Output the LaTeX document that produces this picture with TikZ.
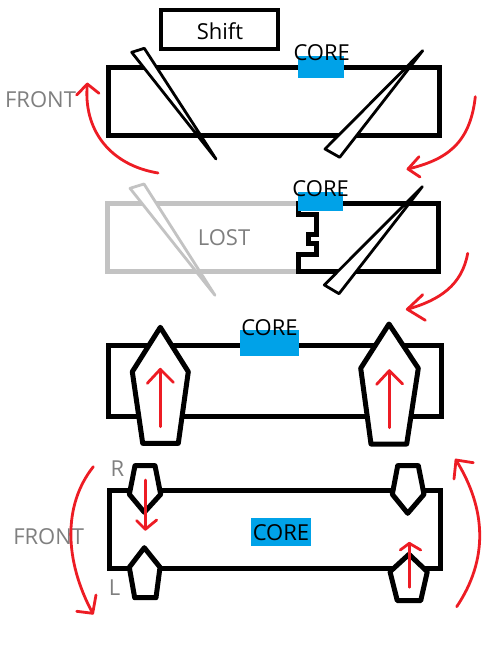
\documentclass[tikz,border=0pt]{standalone}
\usepackage{fontspec}
\setmainfont{Open Sans}
\definecolor{redarrow}{HTML}{ED1C24}
\definecolor{coreblue}{HTML}{00A2E8}
\definecolor{lostgray}{HTML}{C3C3C3}
\definecolor{labelgray}{HTML}{7F7F7F}
\tikzset{
  bar/.style={draw=black,line width=5pt,line join=miter},
  lostbar/.style={draw=lostgray,line width=5pt},
  blade/.style={draw=black,fill=white,line width=2.8pt,line join=round},
  lostblade/.style={draw=lostgray,fill=white,line width=2.8pt,line join=round},
  pent/.style={draw=black,fill=white,line width=5pt,line join=round},
  redline/.style={draw=redarrow,line width=2.8pt,line cap=round,line join=round},
  coreblock/.style={fill=coreblue,draw=none},
  txt/.style={inner sep=0pt,font=\fontsize{22}{26}\selectfont},
  graytxt/.style={txt,text=labelgray},
}
\begin{document}
\begin{tikzpicture}[x=1pt,y=-1pt]
\useasboundingbox (0,0) rectangle (502,645);
% Shift
\node[draw=black,line width=3.2pt,minimum width=117pt,minimum height=39pt,inner sep=0pt,anchor=center] (shiftbox) at (219.5,29.5) {};
\node[txt] (shifttxt) at (220,31) {Shift};
% row 1
\draw[bar] (108.5,67.8) rectangle (439.5,135);
\fill[coreblock] (298,56) rectangle (344,78);
\node[txt] (core1) at (321.7,53) {CORE};
\draw[blade] (131.7,52.3) -- (144.3,48.3) -- (216,159) -- cycle;
\draw[blade] (422.7,50.7) -- (325,149) -- (339.7,157.3) -- cycle;
\node[graytxt] (front1) at (40.5,100) {FRONT};
\draw[redline] (158,173) .. controls (110,165) and (83,130) .. (87.3,84);
\draw[redline] (76.7,95) -- (87.3,84) -- (99,93.3);
\draw[redline] (475.3,96.7) .. controls (470,145) and (445,160) .. (408,169);
\draw[redline] (419,156.7) -- (408,169) -- (420,177);
% row 2
\draw[lostbar] (298,203.7) -- (107.5,203.7) -- (107.5,271.5) -- (298,271.5);
\draw[lostblade] (130,188.3) -- (144,184) -- (215,295.3) -- cycle;
\node[graytxt] (lost) at (224,238) {LOST};
\draw[bar] (298,203.8) -- (438.5,203.8) -- (438.5,271.5) -- (298,271.5) -- (298,254.5) -- (316.5,254.5) -- (316.5,243.5) -- (308,243.5) -- (308,234.5) -- (316.5,234.5) -- (316.5,214.5) -- (298,214.5) -- cycle;
\fill[coreblock] (297.7,192) rectangle (343,211);
\node[txt] (core2) at (320.7,189) {CORE};
\draw[blade] (422.3,186.7) -- (324.3,285) -- (339,293.7) -- cycle;
\draw[redline] (467.7,253.3) .. controls (462,285) and (440,300) .. (407.3,309.3);
\draw[redline] (422.7,294.7) -- (407.3,309.3) -- (425.3,320.3);
% row 3
\draw[bar] (108.7,345.5) rectangle (441.3,416.3);
\fill[coreblock] (240,330) rectangle (299,355.7);
\node[txt] (core3) at (269.5,328) {CORE};
\draw[pent] (160.3,327.3) -- (188.3,371.7) -- (178.3,443.3) -- (142.7,443.3) -- (132.3,371.7) -- cycle;
\draw[pent] (389,324) -- (418.3,368.3) -- (406.7,444) -- (371,444) -- (360.7,368.3) -- cycle;
\draw[redline] (160.3,426.7) -- (160.3,369.3);
\draw[redline] (147.3,383.3) -- (160.3,369.3) -- (173.3,382.3);
\draw[redline] (389.3,427.7) -- (389.3,370.7);
\draw[redline] (376.7,384.3) -- (389.3,370.7) -- (402.7,384);
% row 4
\draw[bar] (109.7,490.5) rectangle (440.5,568.5);
\fill[coreblock] (251,518.3) rectangle (311,545.7);
\node[txt] (core4) at (281,533) {CORE};
\draw[pent] (144.3,512.3) -- (160.7,494.3) -- (155,465.7) -- (135,465.7) -- (129.3,494.3) -- cycle;
\draw[pent] (144.3,547.7) -- (160,567.3) -- (156,597.7) -- (134.7,597.7) -- (129.3,567.3) -- cycle;
\draw[pent] (407.7,513.3) -- (424,494.3) -- (418.3,465.7) -- (397.7,465.7) -- (392.3,494.3) -- cycle;
\draw[pent] (409,554.3) -- (427.3,571.7) -- (420.7,600.7) -- (397.3,600.7) -- (390,571.7) -- cycle;
\draw[redline] (145.3,480) -- (145.3,529.3);
\draw[redline] (136.7,520.7) -- (145.3,529.3) -- (156.7,520);
\draw[redline] (409.3,587.3) -- (409.3,543.3);
\draw[redline] (400.3,550) -- (409.3,543.3) -- (420.7,550);
\node[graytxt] (front2) at (48.7,537) {FRONT};
\node[graytxt] (rlabel) at (117.5,469) {R};
\node[graytxt] (llabel) at (114.7,588) {L};
\draw[redline] (93.3,466.7) .. controls (63,505) and (64,560) .. (92.7,613.3);
\draw[redline] (96,595) -- (92.7,613.3) -- (76.7,611.3);
\draw[redline] (456.7,606.7) .. controls (488,560) and (487,510) .. (456,460);
\draw[redline] (454,479) -- (456,460) -- (473.3,462.7);
\end{tikzpicture}
\end{document}
